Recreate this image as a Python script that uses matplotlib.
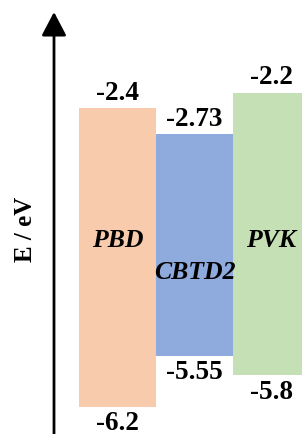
import matplotlib
matplotlib.use("Agg")
import matplotlib.pyplot as plt

# Data
materials = ["PBD", "CBTD2", "PVK"]
lumo = [-2.4, -2.73, -2.2]
homo = [-6.2, -5.55, -5.8]
lumo_labels = ["-2.4", "-2.73", "-2.2"]
homo_labels = ["-6.2", "-5.55", "-5.8"]
colors = ["#F8CBAD", "#8FAADC", "#C5E0B4"]

# layout (baseline positions of material names, in energy units)
name_y = [-4.15, -4.56, -4.15]
font = "Liberation Serif"
fs = 19.5
fs_name = 18.5

fig = plt.figure(figsize=(3.02, 4.35), dpi=100)
ax = fig.add_axes([0, 0, 1, 1])
ax.set_xlim(-1.026, 2.896)
ax.set_ylim(-6.545, -1.01)
ax.axis("off")

xs = list(range(len(materials)))
heights = [l - h for l, h in zip(lumo, homo)]
ax.bar(xs, heights, bottom=homo, width=1.0, align="edge", color=colors,
       edgecolor="none", linewidth=0)

for x, lo, hi, ll, hl, nm, ny in zip(xs, lumo, homo, lumo_labels, homo_labels,
                                      materials, name_y):
    cx = x + 0.5
    ax.annotate(ll, xy=(cx, lo), xytext=(0, 6.5), textcoords="offset points",
                ha="center", va="baseline", fontsize=fs, fontweight="bold",
                family=font)
    ax.annotate(hl, xy=(cx, hi), xytext=(0, -16.0), textcoords="offset points",
                ha="center", va="baseline", fontsize=fs, fontweight="bold",
                family=font)
    ax.text(cx, ny, nm, ha="center", va="baseline", fontsize=fs_name,
            fontweight="bold", fontstyle="italic", family=font)

# vertical energy axis with arrow
ax_x = 54 / 302
ax.annotate("", xy=(ax_x, 1 - 13 / 435), xytext=(ax_x, -0.02),
            xycoords="axes fraction", textcoords="axes fraction",
            arrowprops=dict(arrowstyle="-|>,head_length=1.45,head_width=0.76",
                            mutation_scale=10, lw=2, color="black",
                            shrinkA=0, shrinkB=0))

ax.text(25 / 302, 1 - 229 / 435, "E / eV", transform=ax.transAxes,
        rotation=90, ha="center", va="center", fontsize=18,
        fontweight="bold", family=font)

fig.savefig("out.png", dpi=100)
